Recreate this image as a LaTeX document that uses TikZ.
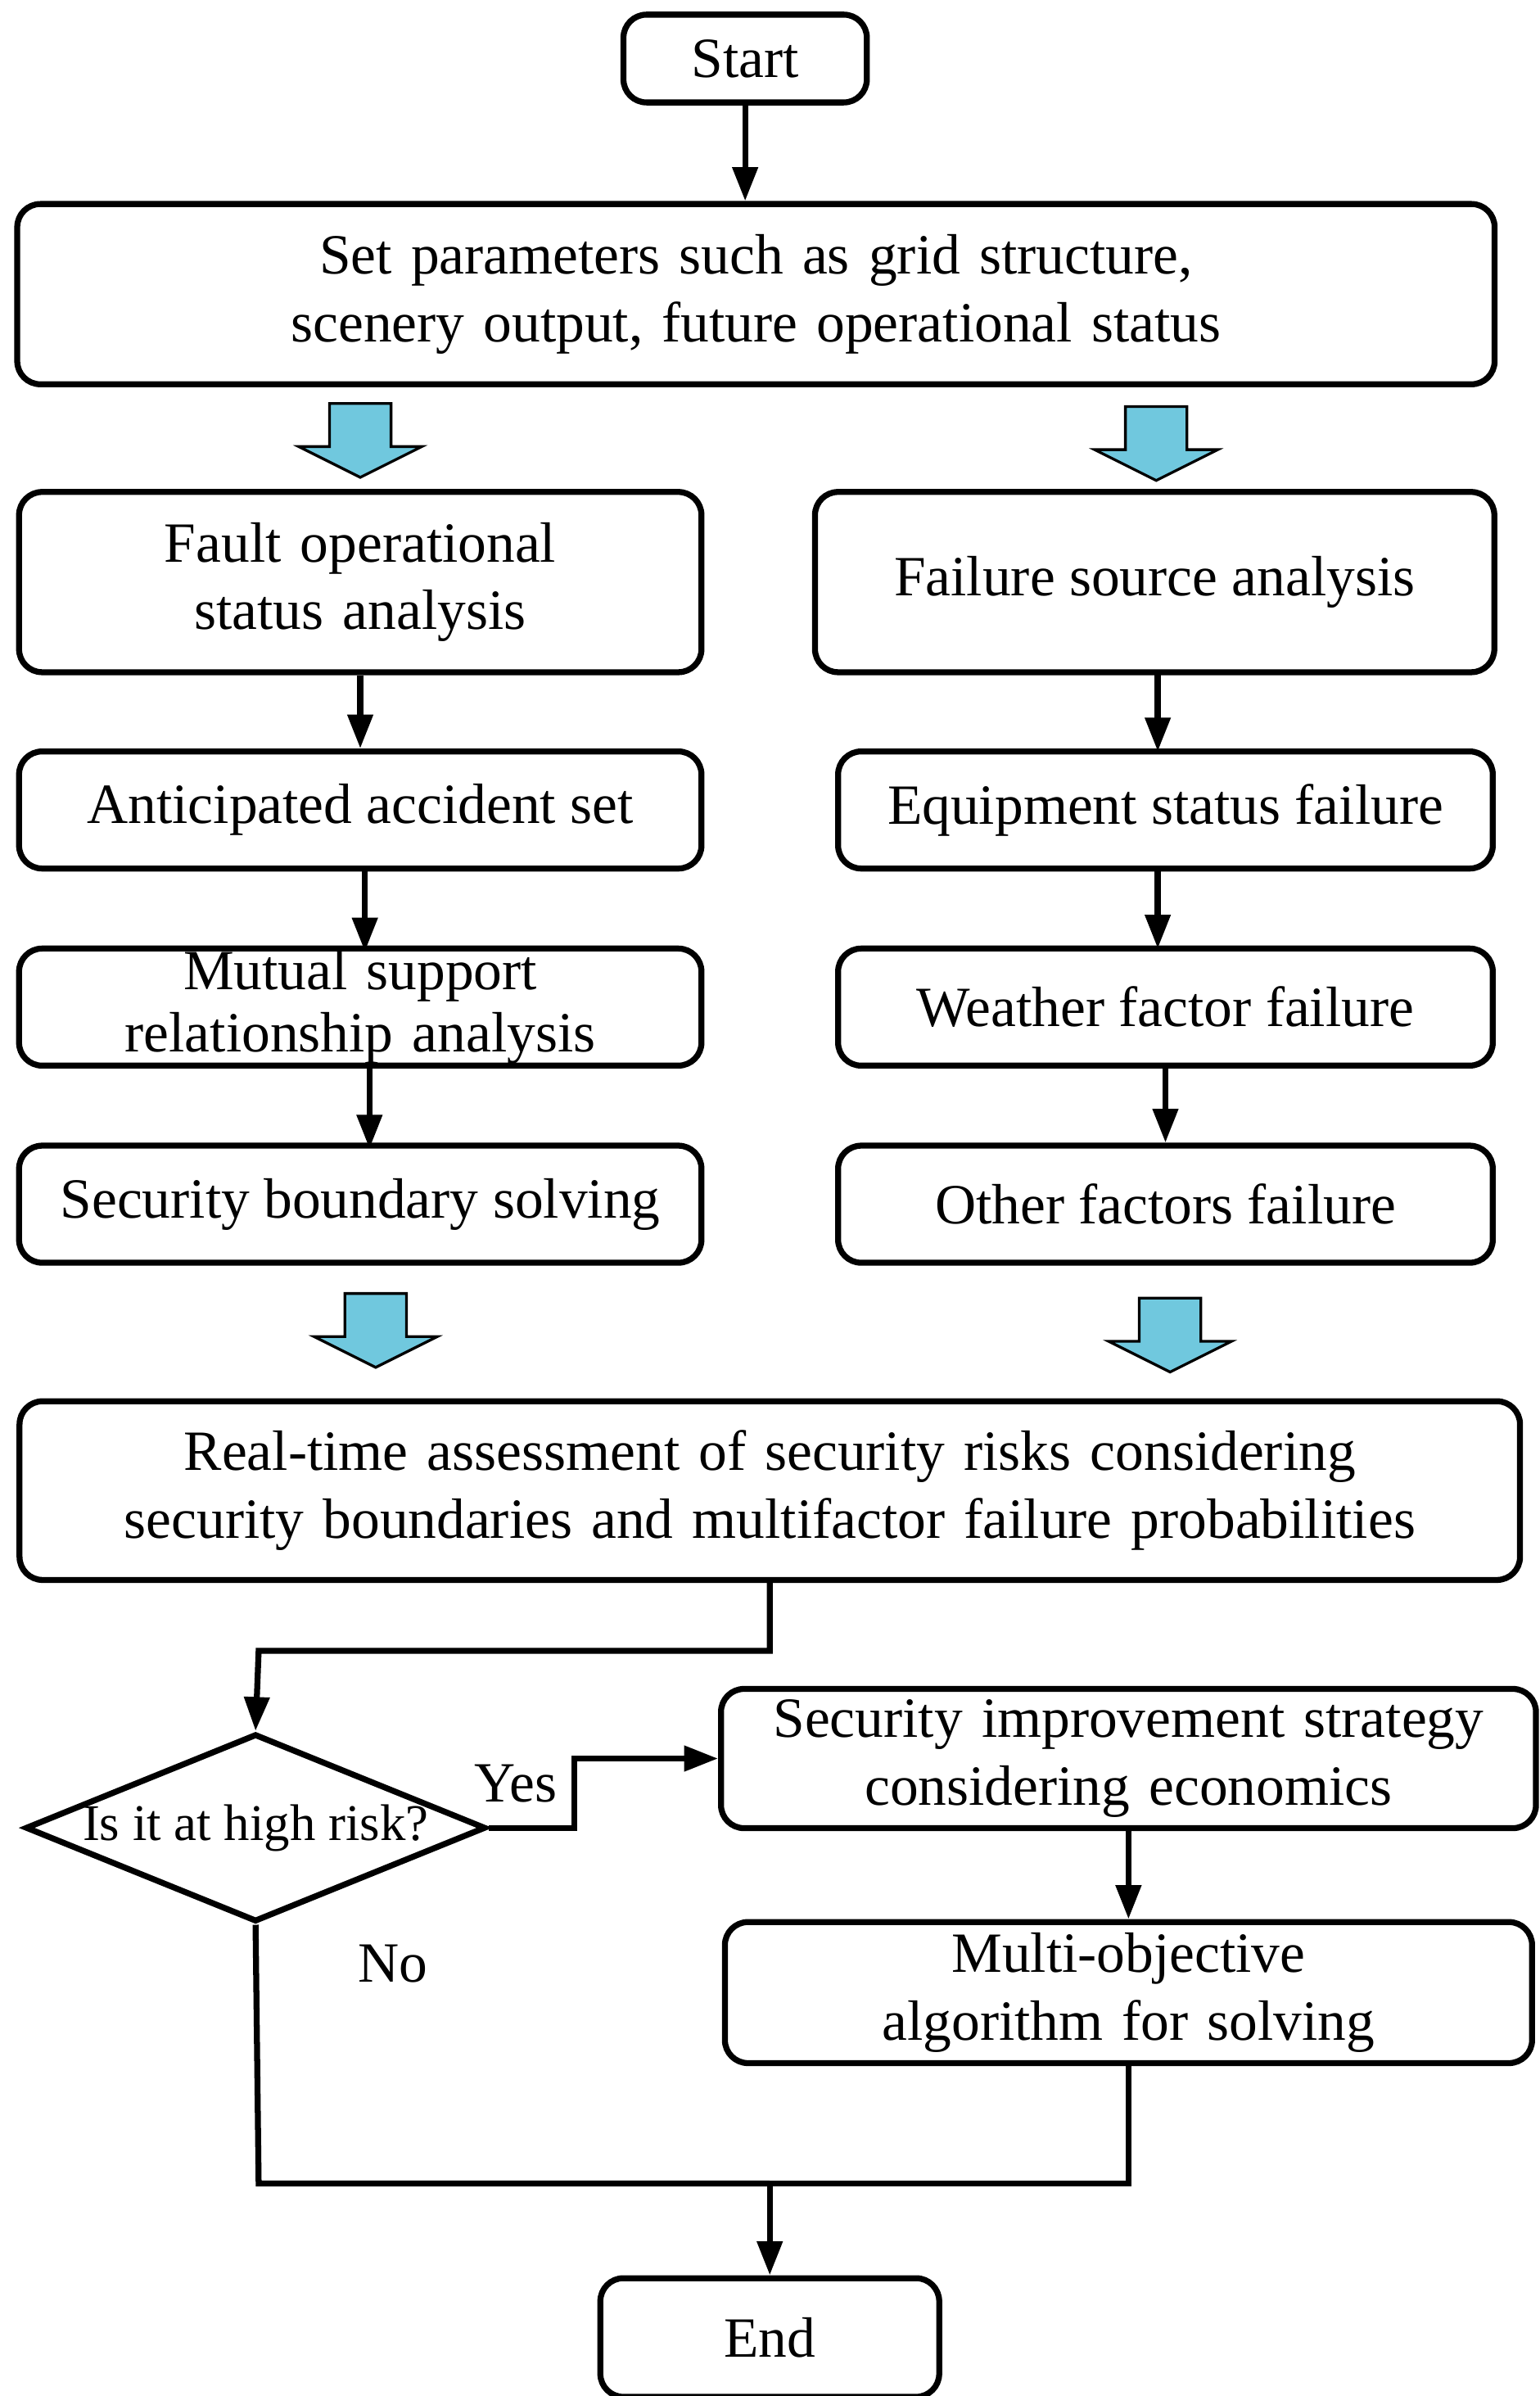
\documentclass[tikz,border=0pt]{standalone}
\usepackage{fontspec}
\setmainfont{Liberation Serif}
\usetikzlibrary{shapes.geometric,arrows.meta}
\newcommand{\boxfont}{\fontsize{10.5}{12.5}\selectfont\hyphenpenalty=10000\relax}
\tikzset{
  box/.style={draw, rounded corners=0.15cm, line width=1.1pt, align=center, font=\boxfont, inner sep=2pt},
  flow/.style={line width=1.1pt, -{Triangle[length=0.22cm,width=0.16cm]}},
  line/.style={line width=1.1pt},
}
\begin{document}
\begin{tikzpicture}[x=0.01cm, y=-0.01cm]
\useasboundingbox (0,0) rectangle (1000,1556);
\node[box, minimum width=1.58cm, minimum height=0.57cm] (start) at (484,38) {Start};
\node[box, minimum width=9.57cm, minimum height=1.17cm, text width=9.45cm] (param) at (491,191) {Set parameters such as grid structure, scenery output, future operational status};
\node[box, minimum width=4.43cm, minimum height=1.17cm, text width=4.2cm] (fault) at (234,378) {Fault operational status analysis};
\node[box, minimum width=4.41cm, minimum height=1.17cm] (source) at (750,378) {Failure source analysis};
\node[box, minimum width=4.43cm, minimum height=0.76cm] (antic) at (234,526) {Anticipated accident set};
\node[box, minimum width=4.25cm, minimum height=0.76cm] (equip) at (757,526) {Equipment status failure};
\node[box, minimum width=4.43cm, minimum height=0.76cm, text width=4cm, inner sep=0pt] (mutual) at (234,654) {Mutual support\\[-1pt]relationship analysis};
\node[box, minimum width=4.25cm, minimum height=0.76cm] (weather) at (757,654) {Weather factor failure};
\node[box, minimum width=4.43cm, minimum height=0.76cm] (bound) at (234,782) {Security boundary solving};
\node[box, minimum width=4.25cm, minimum height=0.76cm] (other) at (757,782) {Other factors failure};
\node[box, minimum width=9.74cm, minimum height=1.16cm, text width=9.6cm] (assess) at (500,968) {Real-time assessment of security risks considering security boundaries and multifactor failure probabilities};
\node[draw, diamond, aspect=2.45, line width=1.1pt, minimum width=2.88cm, minimum height=1.17cm, inner sep=0pt, font=\fontsize{9.5}{11}\selectfont] (risk) at (166,1187) {Is it at high risk?};
\node[box, minimum width=5.24cm, minimum height=0.88cm, text width=5.15cm] (improve) at (733,1142) {Security improvement strategy considering economics};
\node[box, minimum width=5.24cm, minimum height=0.88cm, text width=5cm] (multi) at (733,1294) {Multi-objective algorithm for solving};
\node[box, minimum width=2.2cm, minimum height=0.77cm] (end) at (500,1518) {End};
% hollow arrows
\foreach \x/\y in {234/262, 751/264, 244/840, 760/843}
  \draw[fill={rgb,255:red,112;green,200;blue,222}, line width=0.5pt]
    (\x-20,\y) -- (\x+20,\y) -- (\x+20,\y+28) -- (\x+40,\y+28) -- (\x,\y+48)
    -- (\x-40,\y+28) -- (\x-20,\y+28) -- cycle;
\coordinate (a1) at (500,1072);
\coordinate (a2) at (168,1072);
\coordinate (y1) at (373,1187);
\coordinate (y2) at (373,1142);
\coordinate (m1) at (733,1418);
\coordinate (n1) at (168,1418);
\coordinate (j1) at (500,1418);
\draw[flow] (start) -- (start|-param.north);
\draw[flow] (fault) -- (antic);
\draw[flow] (antic.south) ++(3,0) -- ++(0,52);
\draw[flow] (mutual.south) ++(6,0) -- ++(0,52);
\draw[flow] (752,437) -- (752,488);
\draw[flow] (752,564) -- (752,616);
\draw[flow] (weather) -- (other);
\draw[flow] (assess.south) -- (a1) -- (a2) -- (risk.north);
\draw[flow] (risk.east) -- (y1) -- (y2) -- (improve.west);
\draw[flow] (improve) -- (multi);
\draw[line] (multi.south) -- (m1) -- (j1);
\draw[line] (risk.south) -- (n1) -- (j1);
\draw[flow] (j1) -- (end);
\node[font=\fontsize{10.5}{12}\selectfont] (yes) at (335,1158) {Yes};
\node[font=\fontsize{10.5}{12}\selectfont] (no) at (255,1275) {No};
\end{tikzpicture}
\end{document}
